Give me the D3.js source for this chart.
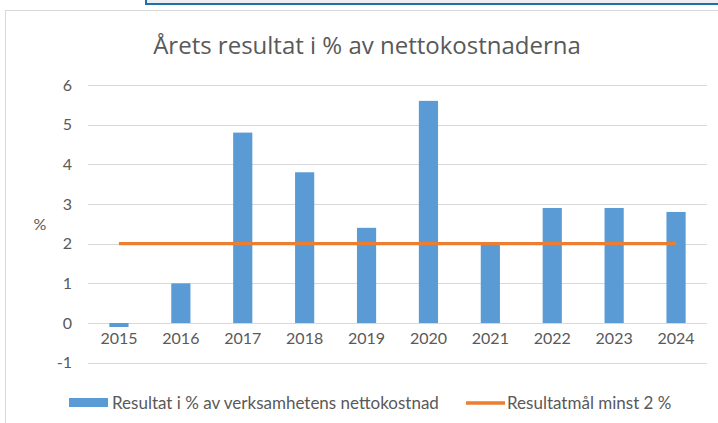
<!DOCTYPE html>
<html lang="sv">
    <head>
        <meta charset="utf-8">
        <title>Årets resultat i % av nettokostnaderna</title>
        <script src="https://d3js.org/d3.v7.min.js"></script>
        <style type="text/css">
            body { margin: 0; background: #fff; }
            svg text { font-family: Lato, "Open Sans", sans-serif; fill: #595959; }
            .grid line { stroke: #d9d9d9; stroke-width: 1; }
            .bar { fill: #5b9bd5; }
        </style>
    </head>
    <body>
        <script type="text/javascript">
        // Data
        const years = ["2015", "2016", "2017", "2018", "2019", "2020", "2021", "2022", "2023", "2024"];
        const resultat = [-0.1, 1.0, 4.8, 3.8, 2.4, 5.6, 2.0, 2.9, 2.9, 2.8];
        const mal = [2, 2, 2, 2, 2, 2, 2, 2, 2, 2];
        const yTicks = [-1, 0, 1, 2, 3, 4, 5, 6];

        // Constants
        const w = 718;
        const h = 423;
        const plotLeft = 88, plotRight = 707;
        const plotTop = 85, plotBottom = 362.7;

        const svg = d3.select("body")
                      .append("svg")
                      .attr("width", w)
                      .attr("height", h);

        // top box (cropped window above the chart)
        svg.append("rect")
           .attr("x", 146).attr("y", -2)
           .attr("width", 580).attr("height", 6)
           .attr("fill", "#eceef1")
           .attr("stroke", "#1f6fab")
           .attr("stroke-width", 2);

        // chart frame
        svg.append("rect")
           .attr("x", 5.5).attr("y", 10.5)
           .attr("width", 730).attr("height", 430)
           .attr("fill", "#fff")
           .attr("stroke", "#d9d9d9")
           .attr("stroke-width", 1);

        // Scales
        const x = d3.scaleBand()
                    .domain(years)
                    .range([plotLeft, plotRight])
                    .paddingInner(0.69)
                    .paddingOuter(0.345);

        const y = d3.scaleLinear()
                    .domain([-1, 6])
                    .range([plotBottom, plotTop]);

        // gridlines
        svg.append("g")
           .attr("class", "grid")
           .selectAll("line")
           .data(yTicks)
           .enter()
           .append("line")
           .attr("x1", plotLeft)
           .attr("x2", plotRight)
           .attr("y1", d => Math.round(y(d)) + 0.5)
           .attr("y2", d => Math.round(y(d)) + 0.5);

        // y axis labels
        const leftAxis = d3.axisLeft(y)
                           .tickValues(yTicks)
                           .tickFormat(d => String(d))
                           .tickSize(0)
                           .tickPadding(16);
        const gy = svg.append("g")
           .attr("transform", "translate(" + plotLeft + ",0)")
           .call(leftAxis);
        gy.select(".domain").remove();
        gy.selectAll("text").attr("font-size", "16px").attr("fill", "#595959");

        // bars
        svg.selectAll(".bar")
           .data(years.map((d, i) => ({ year: d, v: resultat[i] })))
           .enter()
           .append("rect")
           .attr("class", "bar")
           .attr("x", d => x(d.year))
           .attr("y", d => y(Math.max(0, d.v)))
           .attr("width", x.bandwidth())
           .attr("height", d => Math.abs(y(d.v) - y(0)));

        // x labels
        const bottomAxis = d3.axisBottom(x).tickSize(0).tickPadding(0);
        const gx = svg.append("g")
           .attr("transform", "translate(0," + (y(0) + 10) + ")")
           .call(bottomAxis);
        gx.select(".domain").remove();
        gx.selectAll("text").attr("font-size", "16px").attr("fill", "#595959");

        // goal line
        const line = d3.line()
                       .x((d, i) => x(years[i]) + x.bandwidth() / 2)
                       .y(d => y(d));
        svg.append("path")
           .datum(mal)
           .attr("d", line)
           .attr("fill", "none")
           .attr("stroke", "#ed7d31")
           .attr("stroke-width", 3.3);

        // title
        svg.append("text")
           .attr("x", 367)
           .attr("y", 54)
           .attr("text-anchor", "middle")
           .attr("font-size", "24px")
           .style("font-family", "'Open Sans', sans-serif")
           .text("Årets resultat i % av nettokostnaderna");

        // y unit
        svg.append("text")
           .attr("x", 40)
           .attr("y", 230)
           .attr("text-anchor", "middle")
           .attr("font-size", "16px")
           .text("%");

        // legend
        svg.append("rect")
           .attr("x", 69).attr("y", 398)
           .attr("width", 39).attr("height", 9)
           .attr("fill", "#5b9bd5");
        svg.append("text")
           .attr("x", 112).attr("y", 409)
           .attr("font-size", "17px")
           .text("Resultat i % av verksamhetens nettokostnad");
        svg.append("line")
           .attr("x1", 466).attr("x2", 505)
           .attr("y1", 403).attr("y2", 403)
           .attr("stroke", "#ed7d31")
           .attr("stroke-width", 3.3);
        svg.append("text")
           .attr("x", 507).attr("y", 409)
           .attr("font-size", "17px")
           .text("Resultatmål minst 2 %");
        </script>
    </body>
</html>
